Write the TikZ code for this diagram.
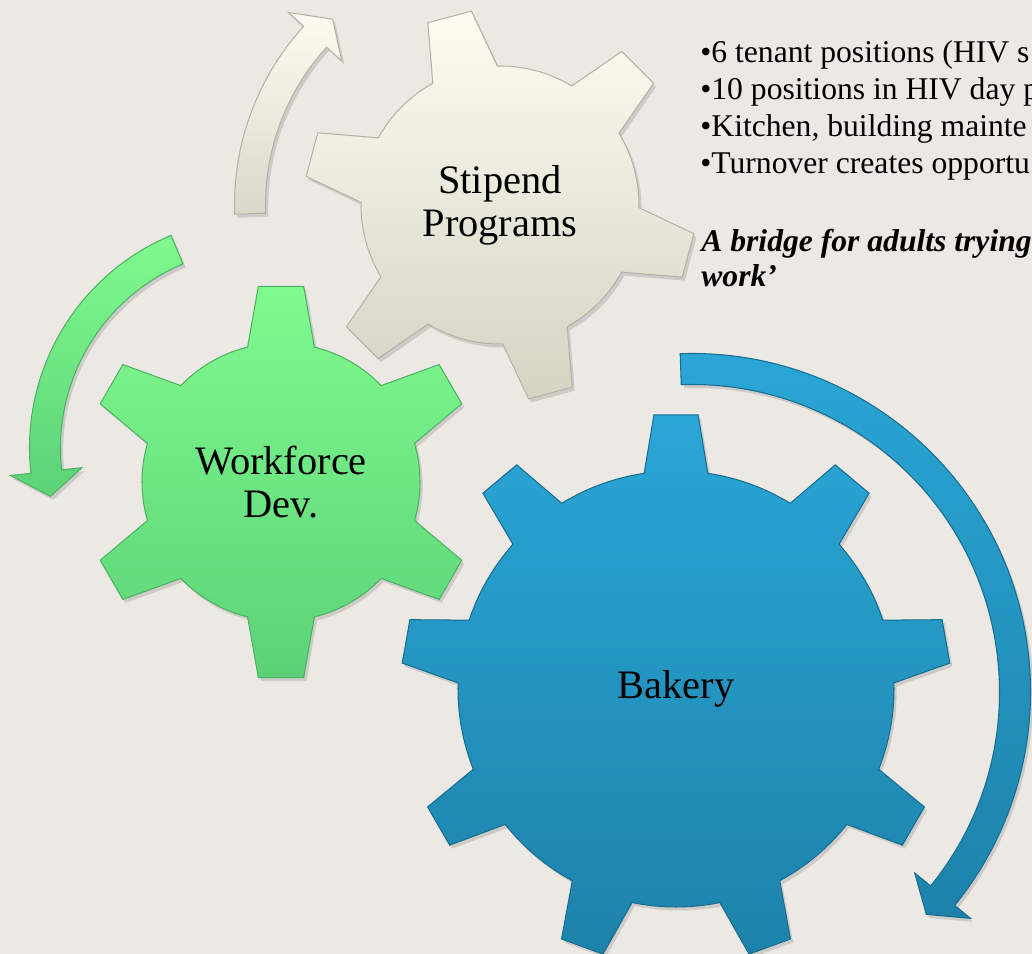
\documentclass[tikz,border=0pt]{standalone}
\usepackage{fontspec}
\setmainfont{Liberation Serif}
\usetikzlibrary{shadows}

%% one gear: centre, teeth, first tooth angle, body radius, tip radius,
%% half angle of a tooth at its base, half angle at its tip, style
\newcommand{\gear}[8]{%
  \path[shift={(#1)},#8] ({#3-#6}:#4)
    \foreach \k in {1,...,#2}{
      -- ({#3+(\k-1)*360/#2-#7}:#5) -- ({#3+(\k-1)*360/#2+#7}:#5)
      -- ({#3+(\k-1)*360/#2+#6}:#4)
      arc[start angle={#3+(\k-1)*360/#2+#6}, end angle={#3+\k*360/#2-#6}, radius=#4]
    } -- cycle;
}

%% curved arrow as a filled band: centre, radius, tail angle,
%% angle where the head starts, angle of the tip, style
\newcommand{\bentarrow}[6]{%
  \path[shift={(#1)},#6] ({#3}:{#2+15.5}) arc[start angle=#3, end angle=#4, radius={#2+15.5}]
    -- ({#4}:{#2+36}) -- ({#5}:{#2}) -- ({#4}:{#2-36}) -- ({#4}:{#2-15.5})
    arc[start angle=#4, end angle=#3, radius={#2-15.5}] -- cycle;
}

\tikzset{
  gearbody/.style={drop shadow={opacity=0.28,shadow xshift=1.5pt,shadow yshift=-2pt},
    draw=#1, line width=0.6pt},
  gearlabel/.style={align=center, font=\fontsize{23}{24.5}\selectfont},
  listline/.style={anchor=base west, inner sep=0pt, font=\fontsize{18}{21}\selectfont}
}

\begin{document}
\begin{tikzpicture}[x=0.02cm,y=0.02cm]
    \definecolor{backdrop}{HTML}{ECE8E4}
    \definecolor{c1top}{HTML}{FCFCF2}
    \definecolor{c1bot}{HTML}{D4D4C3}
    \definecolor{c2top}{HTML}{80FA8E}
    \definecolor{c2bot}{HTML}{5CD277}
    \definecolor{c3top}{HTML}{2AA6D6}
    \definecolor{c3bot}{HTML}{1D82AA}

    \fill[backdrop] (0,0) rectangle (1032,954);
    \useasboundingbox (0,0) rectangle (1032,954);

    \coordinate (stipend) at (500,749);
    \coordinate (workforce) at (281,472);
    \coordinate (bakery) at (676,265);

    %% the three gears
    \gear{stipend}{6}{45}{139}{196}{13.9}{6.6}{top color=c1top,bottom color=c1bot,gearbody=c1bot!85!black}
    \gear{workforce}{6}{30}{139}{197}{13.9}{6.6}{top color=c2top,bottom color=c2bot,gearbody=c2bot!85!black}
    \gear{bakery}{9}{10}{218}{275}{8.4}{4.6}{top color=c3top,bottom color=c3bot,gearbody=c3bot!85!black}

    \node[gearlabel] (stiplabel) at (stipend) {Stipend\\Programs};
    \node[gearlabel] (wflabel) at (workforce) {Workforce\\Dev.};
    \node[gearlabel] (baklabel) at (bakery) {Bakery};

    %% turning arrows round the gears
    \coordinate (stiparc) at (500,749);
    \coordinate (wfarc) at (260,506);
    \coordinate (bakarc) at (692,262);

    \bentarrow{stiparc}{250}{182}{137.7}{132}{top color=c1top,bottom color=c1bot!90!white,gearbody=c1bot!85!black}
    \bentarrow{wfarc}{215}{112.7}{186.3}{193}{top color=c2top,bottom color=c2bot,gearbody=c2bot!85!black}
    \bentarrow{bakarc}{323}{92}{-39.1}{-43.5}{top color=c3top,bottom color=c3bot,gearbody=c3bot!85!black}

    %% text on the right
    \foreach \txt [count=\i] in {6 tenant positions (HIV s, 10 positions in HIV day p, {Kitchen, building mainte}, Turnover creates opportu}
        \node[listline] (item\i) at (700, 928-37*\i) {\textbullet\txt};

    \node[listline, font=\fontsize{18}{21}\selectfont\bfseries\itshape] (bridge) at (701,702) {A bridge for adults trying};
    \node[listline, font=\fontsize{18}{21}\selectfont\bfseries\itshape] (work) at (701,667) {work’};

\end{tikzpicture}
\end{document}
